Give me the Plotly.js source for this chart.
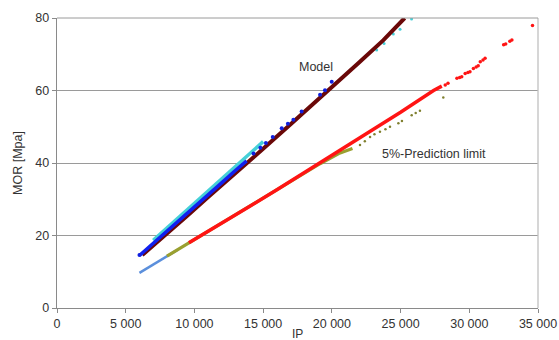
<!DOCTYPE html>
<html>
<head>
<meta charset="utf-8">
<script src="https://cdn.plot.ly/plotly-3.0.1.min.js"></script>
<style>html,body{margin:0;padding:0;background:#fff;}#chart{width:559px;height:340px;}</style>
</head>
<body>
<div id="chart"></div>
<script>
// Upper band: measured data (cyan, blue) and the model line (dark red)
var cyanX = [7000, 8000, 9000, 10000, 11000, 12000, 13000, 14000, 15000];
var cyanY = [18.7, 22.1, 25.5, 28.9, 32.3, 35.7, 39.1, 42.5, 45.9];
var cyanTopX = [23260, 23800, 24470, 24960, 25800];
var cyanTopY = [71.2, 73.0, 75.6, 76.9, 79.7];
var blueX = [6000, 7000, 8000, 9000, 10000, 11000, 12000, 13000, 13800];
var blueY = [14.5, 17.8, 21.2, 24.5, 27.9, 31.2, 34.6, 38.0, 40.6];
var blueDotX = [6000, 14300, 14800, 15200, 15700, 16350, 16800, 17200, 17800, 19140, 19500, 19990];
var blueDotY = [14.6, 42.6, 44.2, 45.5, 47.2, 49.6, 50.8, 51.9, 54.2, 58.8, 60.1, 62.4];
var modelX = [6200, 8000, 9500, 11000, 13300, 15000, 17000, 19900, 22000, 23750, 25300];
var modelY = [14.6, 20.4, 25.5, 30.6, 38.1, 43.9, 50.7, 60.5, 67.8, 73.9, 80.0];

// Lower band: 5%-prediction limit
var lightBlueX = [6000, 7000, 8000, 8800];
var lightBlueY = [9.7, 12.0, 14.3, 16.1];
var oliveX = [8000, 9000, 10500, 12000, 14000, 16000, 18000, 19140, 20500, 21500];
var oliveY = [14.3, 16.6, 20.0, 23.4, 28.0, 32.6, 37.2, 39.8, 42.6, 44.0];
var oliveDotX = [22050, 22400, 22780, 23100, 23500, 23900, 24230, 24840, 25100, 25810, 26100, 26410, 28110];
var oliveDotY = [45.0, 46.0, 47.2, 47.9, 48.6, 49.3, 50.0, 51.0, 51.6, 53.2, 53.8, 54.4, 58.1];
var redX = [9600, 10500, 12000, 14000, 16000, 18000, 19140, 21000, 23000, 25000, 27400, 28000];
var redY = [18.0, 20.0, 23.4, 28.0, 32.6, 37.3, 40.0, 44.4, 49.2, 54.0, 60.0, 61.2];
var redDotX = [28250, 28450, 29100, 29300, 29450, 29700, 29900, 30050, 30300, 30500, 30650, 30800, 31000, 31150, 32500, 32650, 32950, 33100, 34600];
var redDotY = [61.5, 62.0, 63.4, 63.6, 63.8, 64.7, 65.0, 65.2, 66.1, 66.5, 66.8, 67.9, 68.4, 68.9, 72.6, 72.8, 73.6, 73.9, 77.9];

var xTicks = [0, 5000, 10000, 15000, 20000, 25000, 30000, 35000];
var yTicks = [0, 20, 40, 60, 80];
var labels = ["Model", "5%-Prediction limit"];
var labelX = [18850, 27400];
var labelY = [66.6, 42.5];

var font = "Liberation Sans, Arial, sans-serif";
var traces = [
  {x: cyanX, y: cyanY, mode: "lines", line: {color: "#45d0d8", width: 3.5}},
  {x: cyanTopX, y: cyanTopY, mode: "markers", marker: {color: "#45d0d8", size: 3}},
  {x: modelX, y: modelY, mode: "lines", line: {color: "#6a0808", width: 4}},
  {x: blueX, y: blueY, mode: "lines", line: {color: "#1020f0", width: 3.5}},
  {x: blueDotX, y: blueDotY, mode: "markers", marker: {color: "#1020e0", size: 4}},
  {x: lightBlueX, y: lightBlueY, mode: "lines", line: {color: "#5b8fdc", width: 2.5}},
  {x: oliveX, y: oliveY, mode: "lines", line: {color: "#9aa030", width: 3.2}},
  {x: oliveDotX, y: oliveDotY, mode: "markers", marker: {color: "#808030", size: 2.5}},
  {x: redX, y: redY, mode: "lines", line: {color: "#ff1414", width: 3.5}},
  {x: redDotX, y: redDotY, mode: "markers", marker: {color: "#ff1414", size: 3.5}}
];

var annotations = labels.map(function (t, i) {
  return {x: labelX[i], y: labelY[i], xref: "x", yref: "y", text: t, showarrow: false,
          font: {family: font, size: 12.5, color: "#333"}};
});
annotations.push({x: 0.5, y: 0, xref: "paper", yref: "paper", yanchor: "top", yshift: -17,
  text: "IP", showarrow: false, font: {family: font, size: 12, color: "#333"}});

var layout = {
  width: 559, height: 340,
  margin: {l: 57, r: 21, t: 18, b: 32},
  paper_bgcolor: "#fff", plot_bgcolor: "#fff",
  showlegend: false,
  separators: ". ",
  font: {family: font, size: 12, color: "#333"},
  xaxis: {
    range: [0, 35000], tickvals: xTicks, tickformat: ",d",
    showgrid: false, zeroline: false,
    showline: true, linecolor: "#8a8a8a", linewidth: 1.3,
    ticks: "outside", ticklen: 4, tickcolor: "#8a8a8a",
    tickfont: {family: font, size: 12.5, color: "#333"}
  },
  yaxis: {
    range: [0, 80], tickvals: yTicks,
    showgrid: true, gridcolor: "#9a9a9a", gridwidth: 1,
    zeroline: false,
    showline: true, linecolor: "#8a8a8a", linewidth: 1.3,
    ticks: "outside", ticklen: 4, tickcolor: "#8a8a8a",
    tickfont: {family: font, size: 12.5, color: "#333"},
    title: {text: "MOR [Mpa]", font: {family: font, size: 12.5, color: "#333"}}
  },
  shapes: [
    {type: "line", xref: "paper", yref: "paper", x0: 1, x1: 1, y0: 0, y1: 1,
     line: {color: "#c0c0c0", width: 1.3}},
    {type: "line", xref: "paper", yref: "paper", x0: 0, x1: 1, y0: 1, y1: 1,
     line: {color: "#9a9a9a", width: 1}}
  ],
  annotations: annotations
};

Plotly.newPlot("chart", traces, layout, {displayModeBar: false, staticPlot: true});
</script>
</body>
</html>
